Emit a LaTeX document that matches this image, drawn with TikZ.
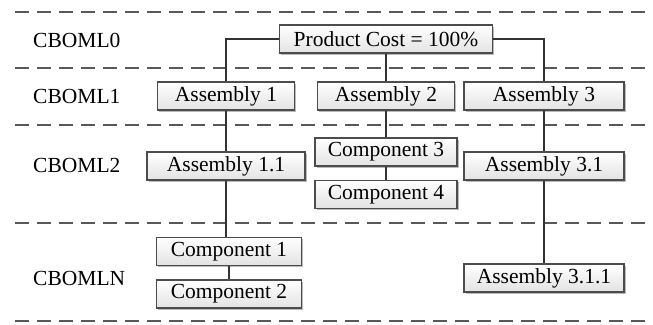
\documentclass[tikz,border=0pt]{standalone}
\usepackage{fontspec}
\setmainfont{Liberation Serif}
\usetikzlibrary{shadows}

\tikzset{
  part/.style={draw=black!70, line width=1.2pt, top color=white, bottom color=gray!22,
    drop shadow={shadow xshift=1.6pt, shadow yshift=-1.6pt, fill=black!45, opacity=0.6},
    minimum height=28pt, inner sep=0pt, font=\fontsize{21.5}{24}\selectfont},
  level/.style={anchor=west, inner sep=0pt, font=\fontsize{21.5}{24}\selectfont},
  sep/.style={draw=black!65, line width=2.2pt, dash pattern=on 14pt off 8pt},
  link/.style={draw=black!80, line width=2pt}
}

\begin{document}
\begin{tikzpicture}[x=1pt,y=-1pt]
	\useasboundingbox (0,0) rectangle (653,324);
	% level separators
	\foreach \yy in {12,68,125,223,321}
		\draw [sep] (15,\yy) -- (653,\yy);
	% level names
	\node [level] (l0) at (33,40) {CBOML0};
	\node [level] (l1) at (33,96) {CBOML1};
	\node [level] (l2) at (33,165) {CBOML2};
	\node [level] (ln) at (33,278) {CBOMLN};
	% parts
	\node [part, minimum width=213pt] (pc) at (386,39) {Product Cost = 100\%};
	\node [part, minimum width=137pt] (a1) at (226,96) {Assembly 1};
	\node [part, minimum width=137pt] (a2) at (386,96) {Assembly 2};
	\node [part, minimum width=160pt] (a3) at (544,96) {Assembly 3};
	\node [part, minimum width=158pt] (a11) at (226,166) {Assembly 1.1};
	\node [part, minimum width=142pt] (c3) at (386,152) {Component 3};
	\node [part, minimum width=142pt] (c4) at (386,194.5) {Component 4};
	\node [part, minimum width=160pt] (a31) at (544,166) {Assembly 3.1};
	\node [part, minimum width=145pt] (c1) at (229,251.5) {Component 1};
	\node [part, minimum width=145pt] (c2) at (229,294) {Component 2};
	\node [part, minimum width=160pt] (a311) at (544,278) {Assembly 3.1.1};
	% links
	\draw [link] (pc.west) -| (a1.north);
	\draw [link] (pc.east) -| (a3.north);
	\draw [link] (pc.south) -- (a2.north);
	\draw [link] (a1.south) -- (a11.north);
	\draw [link] (a2.south) -- (c3.north);
	\draw [link] (c3.south) -- (c4.north);
	\draw [link] (a3.south) -- (a31.north);
	\draw [link] (a11.south) -- (a11.south |- c1.north);
	\draw [link] (c1.south) -- (c2.north);
	\draw [link] (a31.south) -- (a311.north);
\end{tikzpicture}
\end{document}
